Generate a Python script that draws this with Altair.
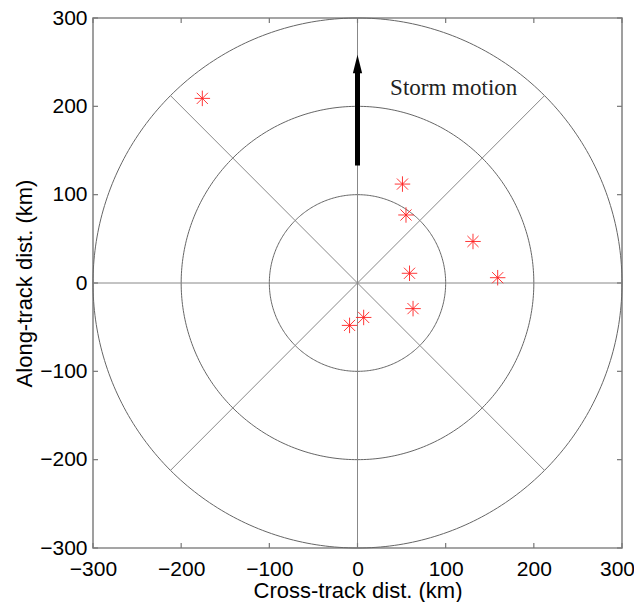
import altair as alt
import numpy as np
import pandas as pd

# data
cross_track = [-176, 51, 55, 131, 159, 59, 63, 7, -9]
along_track = [209, 112, 77, 47, 6, 11, -29, -39, -48]
tick_values = [-300, -200, -100, 0, 100, 200, 300]
ring_radii = [100, 200, 300]
spoke_angles = [0, 45, 90, 135]
arrow_from = 133
arrow_head = 248
label_text = "Storm motion"
label_x = 37
label_y = 213

W, H = 529, 530

pts = pd.DataFrame({"x": cross_track, "y": along_track})

# polar grid rings
rows = []
theta = np.linspace(0, 2 * np.pi, 361)
for r in ring_radii:
    for i, t in enumerate(theta):
        rows.append({"r": r, "i": i, "x": r * np.cos(t), "y": r * np.sin(t)})
rings = pd.DataFrame(rows)

# spokes
sp = []
for a in spoke_angles:
    t = np.deg2rad(a)
    R = 300
    sp.append({"x": -R * np.cos(t), "y": -R * np.sin(t), "x2": R * np.cos(t), "y2": R * np.sin(t)})
spokes = pd.DataFrame(sp)

ticks = pd.DataFrame({"v": tick_values})

xs = alt.Scale(domain=[-300, 300], nice=False, zero=False)
ys = alt.Scale(domain=[-300, 300], nice=False, zero=False)

xaxis = alt.Axis(values=tick_values, ticks=False, domain=False, grid=False, labelFlush=False,
                 labelOverlap=False, labelPadding=10,
                 labelOffset=alt.ConditionalAxisNumber(condition={"test": "datum.value == 300", "value": -5}, value=0),
                 title="Cross-track dist. (km)",
                 titleX=W / 2, titleY=49, titleBaseline="alphabetic", titleAnchor=None)
yaxis = alt.Axis(values=tick_values, ticks=False, domain=False, grid=False, labelFlush=False,
                 labelOverlap=False, labelPadding=6, title="Along-track dist. (km)",
                 titleX=-62, titleY=H / 2, titleAngle=-90, titleBaseline="alphabetic",
                 titleAlign="center")

ring_layer = alt.Chart(rings).mark_line(color="#666", strokeWidth=1).encode(
    x=alt.X("x:Q", scale=xs, axis=xaxis),
    y=alt.Y("y:Q", scale=ys, axis=yaxis),
    detail="r:N",
    order="i:Q",
)

spoke_layer = alt.Chart(spokes).mark_rule(color="#888", strokeWidth=1).encode(
    x="x:Q", y="y:Q", x2="x2:Q", y2="y2:Q"
)

tick_col = "#777"
tb = alt.Chart(ticks).mark_rule(color=tick_col, strokeWidth=1.2).encode(
    x="v:Q", y=alt.value(H), y2=alt.value(H - 5))
tt = alt.Chart(ticks).mark_rule(color=tick_col, strokeWidth=1.2).encode(
    x="v:Q", y=alt.value(0), y2=alt.value(5))
tl = alt.Chart(ticks).mark_rule(color=tick_col, strokeWidth=1.2).encode(
    y="v:Q", x=alt.value(0), x2=alt.value(5))
tr = alt.Chart(ticks).mark_rule(color=tick_col, strokeWidth=1.2).encode(
    y="v:Q", x=alt.value(W), x2=alt.value(W - 5))

arrow_df = pd.DataFrame({"x": [0], "y": [arrow_from], "y2": [arrow_head - 8]})
shaft = alt.Chart(arrow_df).mark_rule(color="black", strokeWidth=5, strokeCap="butt").encode(
    x="x:Q", y="y:Q", y2="y2:Q")
head_df = pd.DataFrame({"x": [0], "y": [arrow_head]})
head = alt.Chart(head_df).mark_point(
    shape="M0,-1L0.5,1L-0.5,1Z", filled=True, color="black", opacity=1, size=340, strokeWidth=0
).encode(x="x:Q", y="y:Q")

txt_df = pd.DataFrame({"x": [label_x], "y": [label_y], "t": [label_text]})
txt = alt.Chart(txt_df).mark_text(
    align="left", baseline="alphabetic", font="Liberation Serif", fontSize=23, color="#222"
).encode(x="x:Q", y="y:Q", text="t:N")

stars = alt.Chart(pts).mark_point(
    shape="M-1,0L1,0M0,-1L0,1M-0.72,-0.72L0.72,0.72M-0.72,0.72L0.72,-0.72",
    filled=False, color="#ff2020", size=240, strokeWidth=0.9, opacity=1
).encode(x="x:Q", y="y:Q")

chart = alt.layer(
    ring_layer, spoke_layer, tb, tt, tl, tr, shaft, head, txt, stars
).properties(
    width=W, height=H,
    autosize=alt.AutoSizeParams(type="none"),
    padding={"left": 85, "top": 10, "right": 12, "bottom": 54},
).configure_view(
    stroke="#888", strokeWidth=1.6
).configure_axis(
    labelFont="Liberation Sans", labelFontSize=21, labelColor="black",
    titleFont="Liberation Sans", titleFontSize=22, titleFontWeight="normal", titleColor="black",
)

chart.save("out.html", embed_options={"renderer": "svg", "actions": False})
